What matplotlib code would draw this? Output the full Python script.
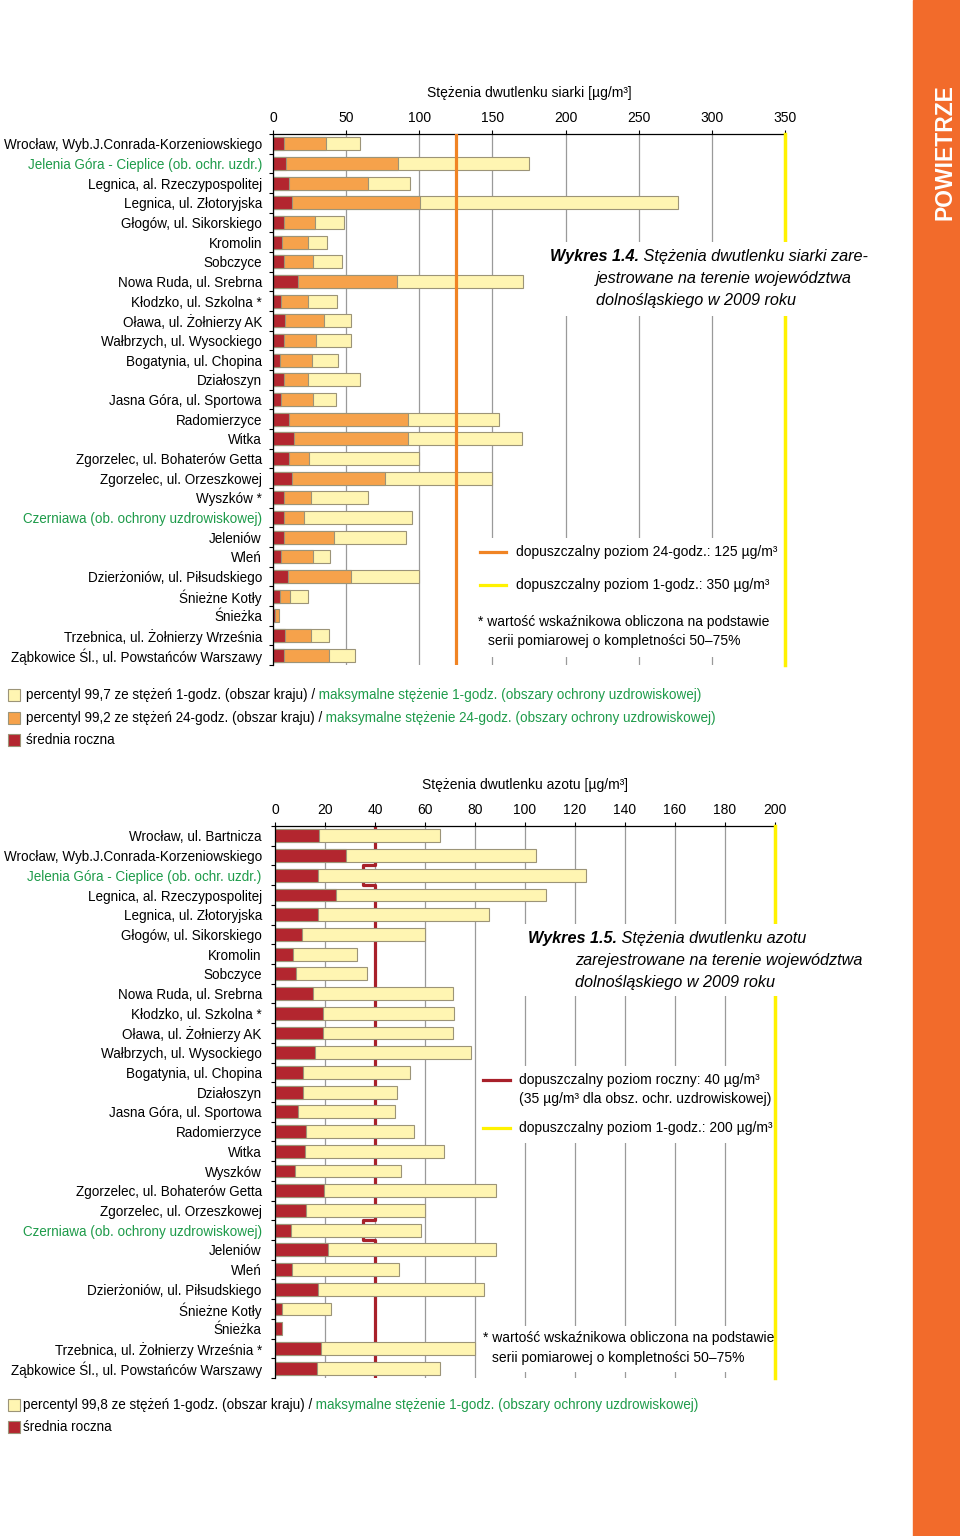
import numpy as np
import matplotlib.pyplot as plt
from matplotlib.patches import Rectangle

plt.rcParams['font.family'] = ['Liberation Sans', 'DejaVu Sans']

RED = '#B3262F'
ORANGE = '#F6A24B'
PALE = '#FFF5B2'
EDGE = '#9C9478'
GREEN = '#1E9B4A'
LINE_ORANGE = '#F08424'
LINE_YELLOW = '#FFF200'
LINE_RED = '#A8202A'
SIDE = '#F26B2B'

SPA = ['Jelenia Góra - Cieplice (ob. ochr. uzdr.)',
       'Czerniawa (ob. ochrony uzdrowiskowej)']

# SO2 data
so2_stations = ['Wrocław, Wyb.J.Conrada-Korzeniowskiego',
                'Jelenia Góra - Cieplice (ob. ochr. uzdr.)',
                'Legnica, al. Rzeczypospolitej', 'Legnica, ul. Złotoryjska',
                'Głogów, ul. Sikorskiego', 'Kromolin', 'Sobczyce',
                'Nowa Ruda, ul. Srebrna', 'Kłodzko, ul. Szkolna *',
                'Oława, ul. Żołnierzy AK', 'Wałbrzych, ul. Wysockiego',
                'Bogatynia, ul. Chopina', 'Działoszyn', 'Jasna Góra, ul. Sportowa',
                'Radomierzyce', 'Witka', 'Zgorzelec, ul. Bohaterów Getta',
                'Zgorzelec, ul. Orzeszkowej', 'Wyszków *',
                'Czerniawa (ob. ochrony uzdrowiskowej)', 'Jeleniów', 'Wleń',
                'Dzierżoniów, ul. Piłsudskiego', 'Śnieżne Kotły', 'Śnieżka',
                'Trzebnica, ul. Żołnierzy Września',
                'Ząbkowice Śl., ul. Powstańców Warszawy']
so2_mean = [7.2, 9.1, 11.1, 13.0, 7.2, 5.9, 7.2, 16.8, 5.5, 8.2, 7.2, 4.5, 7.2, 5.4,
            10.7, 14.1, 11.1, 13.2, 7.2, 7.2, 7.2, 5.4, 10.2, 4.5, 1.6, 8.2, 7.2]
so2_24h = [36.2, 85.4, 64.6, 100.6, 28.4, 23.9, 27.3, 84.7, 23.9, 35.0, 29.4, 26.6,
           23.9, 27.3, 92.2, 92.0, 24.8, 76.7, 25.7, 20.9, 41.6, 27.3, 53.3, 11.6,
           3.8, 25.7, 38.2]
so2_1h = [59.6, 175.3, 93.8, 276.8, 48.2, 36.9, 47.5, 170.8, 43.5, 53.0, 53.0, 44.6,
          59.6, 42.8, 154.4, 170.3, 99.9, 149.8, 64.6, 94.9, 91.0, 38.9, 99.5, 23.9,
          np.nan, 38.2, 56.0]
so2_ticks = [0, 50, 100, 150, 200, 250, 300, 350]

# NO2 data
no2_stations = ['Wrocław, ul. Bartnicza', 'Wrocław, Wyb.J.Conrada-Korzeniowskiego',
                'Jelenia Góra - Cieplice (ob. ochr. uzdr.)',
                'Legnica, al. Rzeczypospolitej', 'Legnica, ul. Złotoryjska',
                'Głogów, ul. Sikorskiego', 'Kromolin', 'Sobczyce',
                'Nowa Ruda, ul. Srebrna', 'Kłodzko, ul. Szkolna *',
                'Oława, ul. Żołnierzy AK', 'Wałbrzych, ul. Wysockiego',
                'Bogatynia, ul. Chopina', 'Działoszyn', 'Jasna Góra, ul. Sportowa',
                'Radomierzyce', 'Witka', 'Wyszków', 'Zgorzelec, ul. Bohaterów Getta',
                'Zgorzelec, ul. Orzeszkowej', 'Czerniawa (ob. ochrony uzdrowiskowej)',
                'Jeleniów', 'Wleń', 'Dzierżoniów, ul. Piłsudskiego', 'Śnieżne Kotły',
                'Śnieżka', 'Trzebnica, ul. Żołnierzy Września *',
                'Ząbkowice Śl., ul. Powstańców Warszawy']
no2_mean = [17.7, 28.5, 17.3, 24.5, 17.3, 10.7, 7.3, 8.5, 15.2, 19.1, 19.1, 16.1,
            11.3, 11.3, 9.1, 12.4, 11.9, 7.9, 19.6, 12.4, 6.3, 21.3, 6.8, 17.3,
            2.9, 2.9, 18.4, 16.8]
no2_1h = [66.1, 104.5, 124.5, 108.5, 85.7, 60.0, 32.9, 36.9, 71.2, 71.7, 71.2, 78.5,
          54.0, 48.9, 47.9, 55.7, 67.7, 50.5, 88.4, 60.0, 58.4, 88.5, 49.5, 83.5,
          22.4, np.nan, 80.0, 66.1]
no2_ticks = [0, 20, 40, 60, 80, 100, 120, 140, 160, 180, 200]
no2_limit = [35 if s in SPA else 40 for s in no2_stations]

FS = 10
FS_LAB = 9.75
FS_TITLE = 11.7


def style_axes(ax, names, ticks, title, pad):
    n = len(names)
    ax.set_xlim(ticks[0], ticks[-1])
    ax.set_ylim(n - 0.5, -0.5)
    ax.xaxis.tick_top()
    ax.xaxis.set_label_position('top')
    ax.set_xticks(ticks)
    ax.set_xlabel(title, fontsize=FS, labelpad=10)
    ax.set_yticks(range(n))
    ax.set_yticklabels(names)
    for lab in ax.get_yticklabels():
        if lab.get_text() in SPA:
            lab.set_color(GREEN)
    ax.set_yticks(np.arange(-0.5, n), minor=True)
    ax.tick_params(axis='y', which='major', length=0, pad=pad, labelsize=FS_LAB)
    ax.tick_params(axis='y', which='minor', length=3, width=0.8)
    ax.tick_params(axis='x', length=3, width=0.8, pad=3.5, labelsize=FS)
    ax.spines[['right', 'bottom']].set_visible(False)
    ax.spines[['top', 'left']].set_linewidth(0.9)
    ax.grid(axis='x', color='#9A9A9A', lw=0.9)
    ax.set_axisbelow(True)


def white_box(ax, x0, y0, x1, y1):
    ax.add_patch(Rectangle((x0, y0), x1 - x0, y1 - y0, transform=bg.transData,
                           facecolor='white', edgecolor='none', zorder=4, clip_on=False))


def note(ax, x, y, s, fs=FS, **kw):
    return ax.text(x, y, s, transform=bg.transData, fontsize=fs, va='center',
                   ha='left', zorder=6, **kw)


def two_part(ax, x, y, first, second, fs, c2, kw1=None, kw2=None):
    t = note(ax, x, y, first, fs, **(kw1 or {}))
    ax.annotate(second, xy=(1, 0), xycoords=t, va='bottom', ha='left',
                fontsize=fs, color=c2, zorder=6, annotation_clip=False, **(kw2 or {}))
    return t


fig = plt.figure(figsize=(9.6, 15.36), dpi=100)
bg = fig.add_axes([0, 0, 1, 1], zorder=-1)
bg.set_xlim(0, 960)
bg.set_ylim(1536, 0)
bg.axis('off')

# orange side band
bg.add_patch(Rectangle((913, 0), 47, 1536, color=SIDE))
bg.text(945, 152, 'POWIETRZE', rotation=90, color='white', fontweight='bold',
        fontsize=16.5, ha='center', va='center')

# ---------- SO2 chart ----------
ax1 = fig.add_axes([273 / 960, 1 - 665 / 1536, 512 / 960, 531 / 1536])
y1 = np.arange(len(so2_stations))
ax1.barh(y1, so2_1h, height=0.65, color=PALE, edgecolor=EDGE, lw=0.8, zorder=2)
ax1.barh(y1, so2_24h, height=0.65, color=ORANGE, edgecolor=EDGE, lw=0.8, zorder=2)
ax1.barh(y1, so2_mean, height=0.65, color=RED, edgecolor=EDGE, lw=0.8, zorder=2)
ax1.axvline(125, color=LINE_ORANGE, lw=2.3, zorder=3)
ax1.axvline(350, color=LINE_YELLOW, lw=2.5, zorder=3, clip_on=False)
style_axes(ax1, so2_stations, so2_ticks, 'Stężenia dwutlenku siarki [µg/m³]', 8)

white_box(ax1, 543, 242, 882, 316)
two_part(ax1, 550, 256, 'Wykres 1.4.', ' Stężenia dwutlenku siarki zare-', FS_TITLE,
         'black', kw1={'style': 'italic', 'fontweight': 'bold'}, kw2={'style': 'italic'})
note(ax1, 596, 278, 'jestrowane na terenie województwa', FS_TITLE, style='italic')
note(ax1, 596, 300, 'dolnośląskiego w 2009 roku', FS_TITLE, style='italic')

white_box(ax1, 472, 538, 779, 657)
ax1.plot([480, 506], [552, 552], transform=bg.transData, color=LINE_ORANGE, lw=2.3,
         zorder=6, clip_on=False)
note(ax1, 516, 552, 'dopuszczalny poziom 24-godz.: 125 µg/m³')
ax1.plot([480, 506], [585, 585], transform=bg.transData, color=LINE_YELLOW, lw=2.3,
         zorder=6, clip_on=False)
note(ax1, 516, 585, 'dopuszczalny poziom 1-godz.: 350 µg/m³')
note(ax1, 478, 622, '* wartość wskaźnikowa obliczona na podstawie')
note(ax1, 488, 641, 'serii pomiarowej o kompletności 50–75%')

# ---------- NO2 chart ----------
ax2 = fig.add_axes([275 / 960, 1 - 1378 / 1536, 500 / 960, 552 / 1536])
n2 = len(no2_stations)
y2 = np.arange(n2)
edges = np.arange(n2 + 1) - 0.5
ax2.plot(np.repeat(no2_limit, 2), np.column_stack([edges[:-1], edges[1:]]).ravel(),
         color=LINE_RED, lw=2.3, zorder=1)
ax2.barh(y2, no2_1h, height=0.65, color=PALE, edgecolor=EDGE, lw=0.8, zorder=2)
ax2.barh(y2, no2_mean, height=0.65, color=RED, edgecolor=EDGE, lw=0.8, zorder=2)
ax2.axvline(200, color=LINE_YELLOW, lw=2.5, zorder=3, clip_on=False)
style_axes(ax2, no2_stations, no2_ticks, 'Stężenia dwutlenku azotu [µg/m³]', 9.5)

white_box(ax2, 520, 924, 870, 996)
two_part(ax2, 528, 938, 'Wykres 1.5.', ' Stężenia dwutlenku azotu', FS_TITLE,
         'black', kw1={'style': 'italic', 'fontweight': 'bold'}, kw2={'style': 'italic'})
note(ax2, 575, 961, 'zarejestrowane na terenie województwa', FS_TITLE, style='italic')
note(ax2, 575, 983, 'dolnośląskiego w 2009 roku', FS_TITLE, style='italic')

white_box(ax2, 478, 1066, 771, 1143)
ax2.plot([483, 510], [1080, 1080], transform=bg.transData, color=LINE_RED, lw=2.3,
         zorder=6, clip_on=False)
note(ax2, 519, 1080, 'dopuszczalny poziom roczny: 40 µg/m³')
note(ax2, 519, 1099, '(35 µg/m³ dla obsz. ochr. uzdrowiskowej)')
ax2.plot([483, 510], [1128, 1128], transform=bg.transData, color=LINE_YELLOW, lw=2.3,
         zorder=6, clip_on=False)
note(ax2, 519, 1128, 'dopuszczalny poziom 1-godz.: 200 µg/m³')
white_box(ax2, 478, 1326, 771, 1372)
note(ax2, 483, 1338, '* wartość wskaźnikowa obliczona na podstawie')
note(ax2, 492, 1358, 'serii pomiarowej o kompletności 50–75%')


# ---------- figure legends ----------
def legend_square(y, color):
    bg.add_patch(Rectangle((8, y - 6), 12, 12, facecolor=color, edgecolor=EDGE, lw=0.8))


legend_square(695, PALE)
two_part(bg, 26, 695, 'percentyl 99,7 ze stężeń 1-godz. (obszar kraju) /',
         ' maksymalne stężenie 1-godz. (obszary ochrony uzdrowiskowej)', FS_LAB, GREEN)
legend_square(718, ORANGE)
two_part(bg, 26, 718, 'percentyl 99,2 ze stężeń 24-godz. (obszar kraju) /',
         ' maksymalne stężenie 24-godz. (obszary ochrony uzdrowiskowej)', FS_LAB, GREEN)
legend_square(740, RED)
note(bg, 26, 740, 'średnia roczna', FS_LAB)

legend_square(1405, PALE)
two_part(bg, 23, 1405, 'percentyl 99,8 ze stężeń 1-godz. (obszar kraju) /',
         ' maksymalne stężenie 1-godz. (obszary ochrony uzdrowiskowej)', FS_LAB, GREEN)
legend_square(1427, RED)
note(bg, 23, 1427, 'średnia roczna', FS_LAB)

fig.savefig('out.png', dpi=100)
